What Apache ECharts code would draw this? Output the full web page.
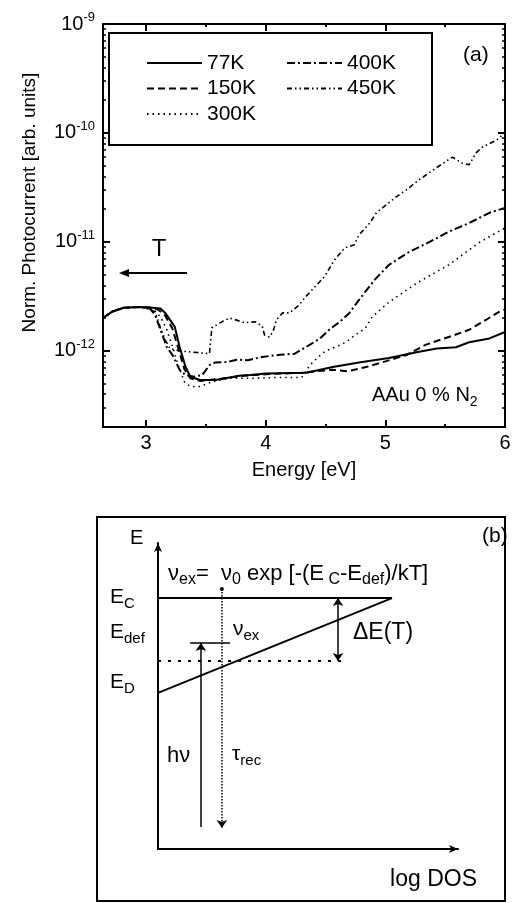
<!DOCTYPE html>
<html><head><meta charset="utf-8">
<script src="https://cdn.jsdelivr.net/npm/echarts@6/dist/echarts.min.js"></script>
<style>html,body{margin:0;padding:0;background:#fff}#c{width:516px;height:903px}</style>
</head><body><div id="c"></div><script>
const FONT = '"Liberation Sans", Arial, Helvetica, sans-serif';

// ---------- Panel (a): photocurrent spectra ----------
const seriesNames = ['77K', '150K', '300K', '400K', '450K'];

const e77 = [2.64, 2.72, 2.81, 2.95, 3.03, 3.12, 3.16, 3.24, 3.28, 3.33, 3.37, 3.45, 3.58, 3.78, 3.87, 4.0, 4.34, 4.56, 4.78, 5.03, 5.26, 5.43, 5.59, 5.7, 5.87, 6.0];
const v77 = [2.0e-12, 2.3e-12, 2.48e-12, 2.53e-12, 2.5e-12, 2.45e-12, 2.23e-12, 1.66e-12, 1.09e-12, 7.1e-13, 5.8e-13, 5.4e-13, 5.4e-13, 5.9e-13, 6.0e-13, 6.2e-13, 6.3e-13, 7.1e-13, 7.8e-13, 8.6e-13, 9.7e-13, 1.05e-12, 1.08e-12, 1.2e-12, 1.3e-12, 1.49e-12];

const e150 = [2.64, 2.72, 2.81, 2.95, 3.03, 3.1, 3.16, 3.22, 3.27, 3.32, 3.37, 3.45, 3.6, 3.8, 4.0, 4.3, 4.42, 4.56, 4.68, 4.84, 5.0, 5.18, 5.34, 5.53, 5.7, 5.84, 5.95, 6.0];
const v150 = [2.0e-12, 2.3e-12, 2.48e-12, 2.53e-12, 2.5e-12, 2.4e-12, 2.1e-12, 1.6e-12, 1.05e-12, 6.8e-13, 5.6e-13, 5.3e-13, 5.5e-13, 5.9e-13, 6.1e-13, 6.3e-13, 6.5e-13, 6.7e-13, 6.5e-13, 7.1e-13, 8.0e-13, 9.2e-13, 1.14e-12, 1.34e-12, 1.56e-12, 1.92e-12, 2.28e-12, 2.4e-12];

const e300 = [2.64, 2.72, 2.81, 2.95, 3.03, 3.08, 3.12, 3.17, 3.22, 3.27, 3.32, 3.37, 3.45, 3.55, 3.7, 3.9, 4.1, 4.3, 4.37, 4.43, 4.5, 4.6, 4.67, 4.75, 4.83, 4.89, 5.03, 5.28, 5.53, 5.78, 5.92, 6.0];
const v300 = [2.0e-12, 2.3e-12, 2.48e-12, 2.53e-12, 2.45e-12, 2.3e-12, 2.05e-12, 1.6e-12, 1.1e-12, 7.3e-13, 5.2e-13, 4.7e-13, 4.7e-13, 5.2e-13, 5.6e-13, 5.6e-13, 5.7e-13, 5.7e-13, 7.4e-13, 8.6e-13, 1.0e-12, 1.1e-12, 1.2e-12, 1.4e-12, 1.6e-12, 2.05e-12, 2.8e-12, 4.3e-12, 6.15e-12, 9.8e-12, 1.2e-11, 1.34e-11];

const e400 = [2.64, 2.72, 2.81, 2.95, 3.03, 3.075, 3.13, 3.175, 3.22, 3.28, 3.33, 3.4, 3.47, 3.53, 3.575, 3.675, 3.76, 3.85, 3.97, 4.12, 4.24, 4.37, 4.45, 4.53, 4.62, 4.7, 4.78, 4.91, 5.03, 5.2, 5.37, 5.53, 5.7, 5.87, 6.0];
const v400 = [2.0e-12, 2.3e-12, 2.48e-12, 2.53e-12, 2.45e-12, 2.14e-12, 1.46e-12, 1.07e-12, 9.2e-13, 6.7e-13, 6.0e-13, 5.8e-13, 6.0e-13, 7.4e-13, 7.8e-13, 7.9e-13, 8.3e-13, 8.2e-13, 8.8e-13, 9.2e-13, 9.4e-13, 1.14e-12, 1.29e-12, 1.56e-12, 1.85e-12, 2.23e-12, 2.94e-12, 4.48e-12, 6.15e-12, 8.1e-12, 1.0e-11, 1.24e-11, 1.49e-11, 1.85e-11, 2.05e-11];

const e450 = [2.64, 2.72, 2.81, 2.95, 3.03, 3.075, 3.12, 3.16, 3.2, 3.28, 3.36, 3.45, 3.53, 3.55, 3.66, 3.7, 3.825, 3.91, 3.97, 3.99, 4.03, 4.06, 4.09, 4.14, 4.2, 4.28, 4.325, 4.41, 4.49, 4.575, 4.66, 4.74, 4.78, 4.87, 4.925, 5.09, 5.175, 5.28, 5.425, 5.56, 5.64, 5.7, 5.76, 5.81, 5.93, 6.0];
const v450 = [2.0e-12, 2.3e-12, 2.48e-12, 2.53e-12, 2.4e-12, 2.28e-12, 1.63e-12, 1.26e-12, 1.05e-12, 1.0e-12, 9.8e-13, 9.6e-13, 9.4e-13, 1.63e-12, 1.92e-12, 2.0e-12, 1.81e-12, 1.85e-12, 1.69e-12, 1.4e-12, 1.34e-12, 1.49e-12, 1.92e-12, 2.23e-12, 2.23e-12, 2.64e-12, 3.06e-12, 3.86e-12, 4.78e-12, 6.84e-12, 8.8e-12, 9.4e-12, 1.16e-11, 1.49e-11, 1.85e-11, 2.59e-11, 3.0e-11, 3.7e-11, 4.78e-11, 6.0e-11, 5.3e-11, 5.1e-11, 6.6e-11, 7.4e-11, 8.6e-11, 1.0e-10];

const xMajorTicks = [3, 4, 5, 6];
const xMinorTicks = [3.5, 4.5, 5.5];
const xRange = [2.64, 6.0];
const yRange = [2e-13, 1e-9];
const yDecades = [-13, -12, -11, -10];
const yMinorMultipliers = [2, 3, 4, 5, 6, 7, 8, 9];

// ---------- Panel (b): schematic (diagram units 0..10) ----------
const levelEC = 8.2, levelEdef = 6.73, levelED = 6.14;
const ecLine = [[0, levelEC], [7.8, levelEC]];
const dosLine = [[0, 5.1], [7.8, levelEC]];
const edLine = [[0, levelED], [6.3, levelED]];
const edefLine = [[1.07, levelEdef], [2.4, levelEdef]];
const hvArrow = [[1.43, 0.72], [1.43, levelEdef]];
const tauArrow = [[2.13, 8.5], [2.13, 0.69]];
const dEArrow = [[6.0, levelEC], [6.0, levelED]];

const pairs = (xs, ys) => xs.map((x, i) => [x, ys[i]]);
const dataMap = {
  '77K': pairs(e77, v77), '150K': pairs(e150, v150), '300K': pairs(e300, v300),
  '400K': pairs(e400, v400), '450K': pairs(e450, v450)
};
const styleMap = {
  '77K': { width: 2, type: 'solid' },
  '150K': { width: 2, type: [7, 4] },
  '300K': { width: 1.6, type: [1.5, 4] },
  '400K': { width: 2, type: [8, 3, 2, 3] },
  '450K': { width: 1.6, type: [5, 3, 1.5, 3, 1.5, 3] }
};

// log-spaced minor tick positions (in log10 units) for the log axis
const logLo = Math.log10(yRange[0]), logHi = Math.log10(yRange[1]);
const yMinorLog = [];
yDecades.forEach(d => yMinorMultipliers.forEach(k => {
  const p = d + Math.log10(k);
  if (p > logLo && p < logHi) yMinorLog.push(p);
}));

const black = '#000';
const chart = echarts.init(document.getElementById('c'), null, { renderer: 'canvas' });

const lineSeries = seriesNames.map(n => ({
  name: n, type: 'line', xAxisIndex: 0, yAxisIndex: 0,
  data: dataMap[n], symbol: 'none', showSymbol: false, silent: true,
  lineStyle: { color: black, width: styleMap[n].width, type: styleMap[n].type },
  itemStyle: { color: black }
}));

function diagLine(coords, opts) {
  return {
    type: 'lines', coordinateSystem: 'cartesian2d', xAxisIndex: 4, yAxisIndex: 2,
    silent: true, polyline: false,
    symbol: opts.symbol || ['none', 'none'], symbolSize: opts.symbolSize || 9,
    lineStyle: { color: black, width: opts.width || 1.5, type: opts.type || 'solid', opacity: 1, curveness: 0 },
    data: [{ coords: coords }]
  };
}

const legendBase = {
  orient: 'vertical', top: 47, itemWidth: 55, itemHeight: 12, itemGap: 3.5,
  selectedMode: false,
  itemStyle: { opacity: 0 },
  textStyle: { fontSize: 21, fontFamily: FONT, color: black, lineHeight: 22 }
};

const subRich = (b, s) => ({
  b: { fontSize: b, fontFamily: FONT, color: black, lineHeight: 28 },
  s: { fontSize: s, fontFamily: FONT, color: black, lineHeight: 14, verticalAlign: 'bottom' }
});

function txt(x, y, text, size, rich, align) {
  return {
    type: 'text', x: x, y: y, silent: true, z: 100,
    style: { text: text, fontSize: size, fontFamily: FONT, fill: black, align: align || 'left', verticalAlign: 'middle', rich: rich }
  };
}

function minorLogAxis(pos) {
  return {
    type: 'value', gridIndex: 0, position: pos, min: logLo, max: logHi,
    axisLine: { show: false, onZero: false },
    axisTick: { show: true, inside: true, length: 3, customValues: yMinorLog, lineStyle: { color: black, width: 1.5 } },
    axisLabel: { show: false }, splitLine: { show: false }
  };
}

const option = {
  animation: false,
  backgroundColor: '#fff',
  grid: [
    { left: 103, top: 24, width: 402, height: 403 },
    { left: 158, top: 543, width: 300, height: 306 }
  ],
  legend: [
    Object.assign({}, legendBase, { left: 141, data: ['77K', '150K', '300K'] }),
    Object.assign({}, legendBase, { left: 281, data: ['400K', '450K'] })
  ],
  xAxis: [
    {
      type: 'value', gridIndex: 0, position: 'bottom', min: xRange[0], max: xRange[1],
      name: 'Energy [eV]', nameLocation: 'middle', nameGap: 33,
      nameTextStyle: { fontSize: 20, fontFamily: FONT, color: black },
      axisLine: { show: true, onZero: false, lineStyle: { color: black, width: 2 } },
      axisTick: { show: true, inside: true, length: 7, customValues: xMajorTicks, lineStyle: { color: black, width: 2 } },
      axisLabel: { show: true, customValues: xMajorTicks, margin: 6, fontSize: 20, fontFamily: FONT, color: black },
      splitLine: { show: false }
    },
    {
      type: 'value', gridIndex: 0, position: 'bottom', min: xRange[0], max: xRange[1],
      axisLine: { show: false, onZero: false },
      axisTick: { show: true, inside: true, length: 3, customValues: xMinorTicks, lineStyle: { color: black, width: 2 } },
      axisLabel: { show: false }, splitLine: { show: false }
    },
    {
      type: 'value', gridIndex: 0, position: 'top', min: xRange[0], max: xRange[1],
      axisLine: { show: true, onZero: false, lineStyle: { color: black, width: 2 } },
      axisTick: { show: true, inside: true, length: 7, customValues: xMajorTicks, lineStyle: { color: black, width: 2 } },
      axisLabel: { show: false }, splitLine: { show: false }
    },
    {
      type: 'value', gridIndex: 0, position: 'top', min: xRange[0], max: xRange[1],
      axisLine: { show: false, onZero: false },
      axisTick: { show: true, inside: true, length: 3, customValues: xMinorTicks, lineStyle: { color: black, width: 2 } },
      axisLabel: { show: false }, splitLine: { show: false }
    },
    {
      type: 'value', gridIndex: 1, min: 0, max: 10,
      axisLine: { show: true, onZero: false, symbol: ['none', 'arrow'], symbolSize: [6, 9], lineStyle: { color: black, width: 2 } },
      axisTick: { show: false }, axisLabel: { show: false }, splitLine: { show: false },
      name: 'log DOS', nameLocation: 'end', nameGap: 19,
      nameTextStyle: { fontSize: 23, fontFamily: FONT, color: black, align: 'right', verticalAlign: 'top', padding: [19, 0, 0, 0] }
    }
  ],
  yAxis: [
    {
      type: 'log', logBase: 10, gridIndex: 0, position: 'left', min: yRange[0], max: yRange[1],
      name: 'Norm. Photocurrent [arb. units]', nameLocation: 'middle', nameGap: 64, nameRotate: 90,
      nameTextStyle: { fontSize: 19, fontFamily: FONT, color: black, padding: [0, 0, 0, 46] },
      axisLine: { show: true, onZero: false, lineStyle: { color: black, width: 2 } },
      axisTick: { show: true, inside: true, length: 7, lineStyle: { color: black, width: 2 } },
      axisLabel: {
        show: true, margin: 8, color: black,
        formatter: function (v) {
          const p = Math.log10(v); const r = Math.round(p);
          if (Math.abs(p - r) > 1e-6) return '';
          return '{b|10}{s|' + r + '}';
        },
        rich: {
          b: { fontSize: 20, fontFamily: FONT, color: black, lineHeight: 26 },
          s: { fontSize: 13, fontFamily: FONT, color: black, lineHeight: 13, verticalAlign: 'top' }
        }
      },
      splitLine: { show: false }
    },
    {
      type: 'log', logBase: 10, gridIndex: 0, position: 'right', min: yRange[0], max: yRange[1],
      axisLine: { show: true, onZero: false, lineStyle: { color: black, width: 2 } },
      axisTick: { show: true, inside: true, length: 7, lineStyle: { color: black, width: 2 } },
      axisLabel: { show: false }, splitLine: { show: false }
    },
    {
      type: 'value', gridIndex: 1, min: 0, max: 10,
      axisLine: { show: true, onZero: false, symbol: ['none', 'arrow'], symbolSize: [6, 9], lineStyle: { color: black, width: 2 } },
      axisTick: { show: false }, axisLabel: { show: false }, splitLine: { show: false }
    },
    minorLogAxis('left'),
    minorLogAxis('right')
  ],
  series: lineSeries.concat([
    diagLine(ecLine, { width: 2 }),
    diagLine(dosLine, { width: 2 }),
    diagLine(edLine, { width: 2, type: [3, 7] }),
    diagLine(edefLine, { width: 1.5 }),
    diagLine(hvArrow, { width: 1.5, symbol: ['none', 'arrow'], symbolSize: 8 }),
    diagLine(tauArrow, { width: 1.5, type: [1.5, 1.5], symbol: ['circle', 'arrow'], symbolSize: [4, 8] }),
    diagLine(dEArrow, { width: 1.5, symbol: ['arrow', 'arrow'], symbolSize: 8 })
  ]),
  graphic: [
    // panel (a) decorations
    { type: 'rect', silent: true, z: 90, shape: { x: 109, y: 33, width: 323, height: 112 }, style: { fill: 'none', stroke: black, lineWidth: 2 } },
    txt(463, 55, '(a)', 21),
    txt(159, 249, 'T', 24, null, 'center'),
    { type: 'line', silent: true, z: 100, shape: { x1: 124, y1: 273, x2: 187, y2: 273 }, style: { stroke: black, lineWidth: 2 } },
    { type: 'polygon', silent: true, z: 100, shape: { points: [[119, 273], [129, 269], [129, 277]] }, style: { fill: black } },
    txt(372, 395, '{b|AAu 0 % N}{s|2}', 20, subRich(20, 14)),
    // panel (b) frame and labels
    { type: 'rect', silent: true, z: 90, shape: { x: 97, y: 517, width: 408, height: 384 }, style: { fill: 'none', stroke: black, lineWidth: 2 } },
    txt(482, 536, '(b)', 21),
    txt(130, 538, 'E', 20),
    txt(110, 597, '{b|E}{s|C}', 21, subRich(21, 15)),
    txt(110, 632, '{b|E}{s|def}', 21, subRich(21, 15)),
    txt(110, 682, '{b|E}{s|D}', 21, subRich(21, 15)),
    txt(168, 574, '{b|ν}{s|ex}{b|=  ν}{s|0}{b| exp [-(E}{s| C}{b|-E}{s|def}{b|)/kT]}', 22, subRich(22, 16)),
    txt(233, 629, '{b|ν}{s|ex}', 21, subRich(21, 15)),
    txt(353, 633, 'ΔE(T)', 23),
    txt(167, 756, 'hν', 22),
    txt(232, 754, '{b|τ}{s|rec}', 21, subRich(21, 15))
  ]
};
chart.setOption(option);
</script></body></html>
